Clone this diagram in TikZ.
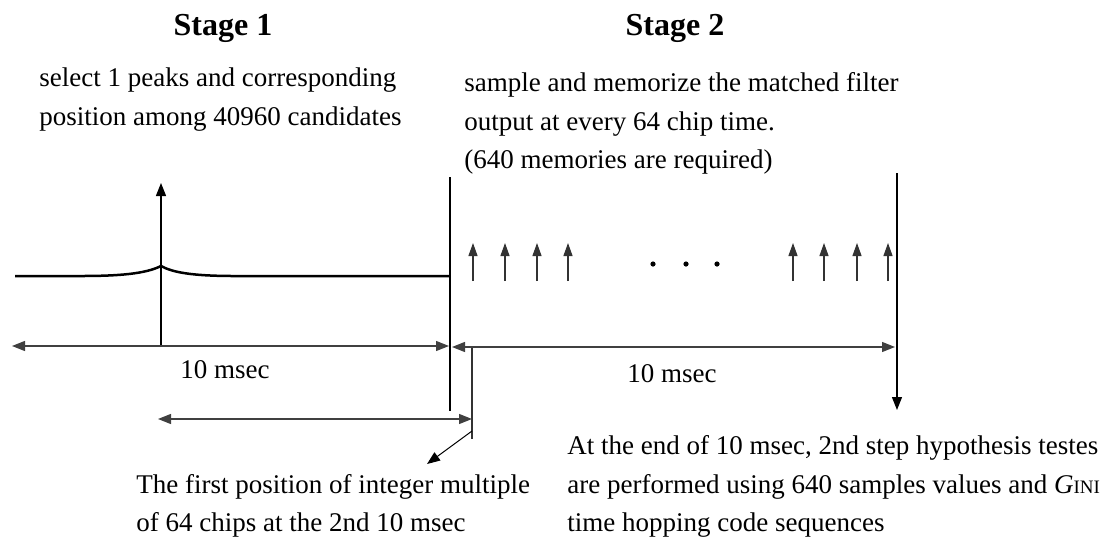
\documentclass[tikz,border=0pt]{standalone}
\usepackage{fontspec}
\setmainfont{Liberation Serif}
\usetikzlibrary{arrows.meta}

\begin{document}
\begin{tikzpicture}[x=0.5pt,y=-0.5pt,
  txt/.style={anchor=base west, inner sep=0pt, font=\fontsize{13.5}{19}\selectfont},
  lbl/.style={anchor=base west, inner sep=0pt, font=\fontsize{13.5}{19}\selectfont},
  head/.style={anchor=base, inner sep=0pt, font=\fontsize{16}{19}\selectfont\bfseries},
  tip/.style={-{Triangle[length=6.5pt,width=5pt]}},
  twotip/.style={{Triangle[length=6.5pt,width=5pt]}-{Triangle[length=6.5pt,width=5pt]}},
  signal/.style={line width=1.25pt, line join=round},
  rule/.style={line width=0.6pt},
  dimline/.style={line width=0.65pt, draw=black!75, twotip},
  sample/.style={line width=0.6pt, draw=black!80, -{Triangle[length=6.5pt,width=4.5pt]}},
  dot/.style={circle, fill=black, inner sep=0pt, minimum size=2.6pt}
]
\useasboundingbox (0,0) rectangle (1108,538);

% stage headings
\node[head] (h1) at (223,35) {Stage 1};
\node[head] (h2) at (675,35) {Stage 2};

% stage descriptions
\node[txt] (s1a) at (39,86) {select 1 peaks and corresponding};
\node[txt] (s1b) at (39,125) {position among 40960 candidates};
\node[txt] (s2a) at (464,91) {sample and memorize the matched filter};
\node[txt] (s2b) at (464,130) {output at every 64 chip time.};
\node[txt] (s2c) at (464,168) {(640 memories are required)};

% reference points
\coordinate (peak) at (161,266);
\coordinate (peaktop) at (161,183);
\coordinate (peakbot) at (161,347);
\coordinate (sigL) at (15,276);
\coordinate (sigR) at (450,276);
\coordinate (midtop) at (450,177);
\coordinate (midbot) at (450,411);
\coordinate (endtop) at (897,173);
\coordinate (endbot) at (897,410);
\coordinate (d1L) at (12,346);
\coordinate (d1R) at (449,346);
\coordinate (d2L) at (452,347);
\coordinate (d2R) at (895,347);
\coordinate (postop) at (472,348);
\coordinate (posbot) at (472,439);
\coordinate (offL) at (158,419);
\coordinate (offR) at (472,419);
\coordinate (leadA) at (472,431);
\coordinate (leadB) at (427,464);

% matched filter output of stage 1
\draw[signal] (sigL) -- (80,276)
  .. controls (118,276) and (145,274) .. (peak)
  .. controls (172,272) and (190,276) .. (235,276) -- (sigR);
\draw[rule, tip] (peakbot) -- (peaktop);

% stage boundaries
\draw[rule] (midtop) -- (midbot);
\draw[rule, tip] (endtop) -- (endbot);
\draw[rule, draw=black!80] (postop) -- (posbot);

% samples taken every 64 chips
\foreach \x [count=\i] in {473,505,537,568,793,824,857,888}
  \draw[sample] (\x,281) coordinate (sb\i) -- (\x,243) coordinate (st\i);
\node[dot] (dt1) at (653,264) {};
\node[dot] (dt2) at (686,264) {};
\node[dot] (dt3) at (717,264) {};

% durations
\draw[dimline] (d1L) -- (d1R);
\draw[dimline] (d2L) -- (d2R);
\draw[dimline] (offL) -- (offR);
\draw[line width=0.5pt, tip] (leadA) -- (leadB);

\node[lbl] (m1) at (180,378) {10 msec};
\node[lbl] (m2) at (627,382) {10 msec};

% notes
\node[txt] (n1a) at (136,493) {The first position of integer multiple};
\node[txt] (n1b) at (136,531) {of 64 chips at the 2nd 10 msec};
\node[txt] (n2a) at (567,454) {At the end of 10 msec, 2nd step hypothesis testes};
\node[txt] (n2b) at (567,493) {are performed using 640 samples values and \textit{G}{\fontsize{9.5}{10}\selectfont INI}};
\node[txt] (n2c) at (567,531) {time hopping code sequences};
\end{tikzpicture}
\end{document}
